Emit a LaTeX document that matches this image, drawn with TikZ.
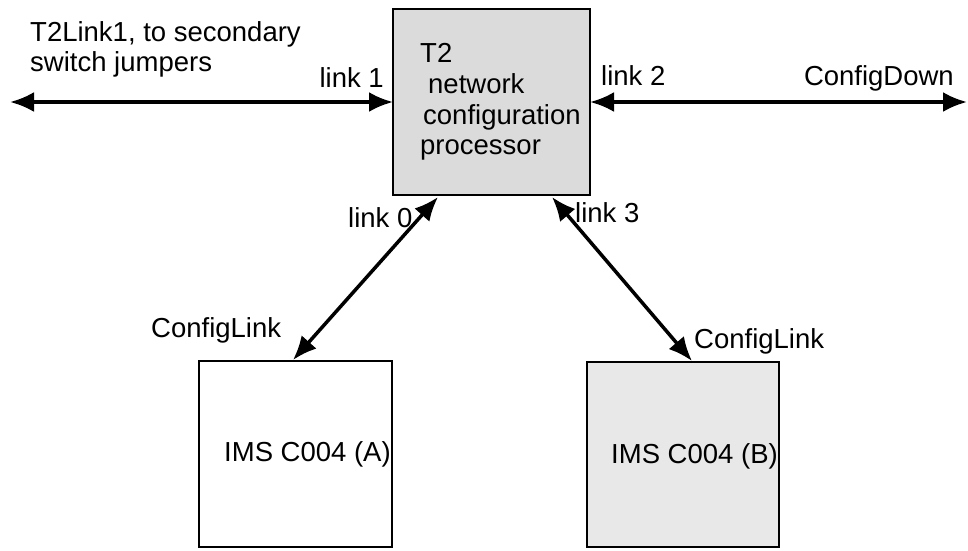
\documentclass[tikz,border=0pt]{standalone}
\usepackage{fontspec}
\setmainfont{Liberation Sans}
\usetikzlibrary{arrows.meta}
\begin{document}
\begin{tikzpicture}[x=1pt,y=-1pt,
  lbl/.style={inner sep=0pt,font=\fontsize{27.5}{31}\selectfont},
  boxA/.style={draw=black,line width=2.5pt,inner sep=0pt},
  link/.style={line width=3.5pt,{Latex[length=24pt,width=20pt]}-{Latex[length=24pt,width=20pt]}}]
\useasboundingbox (0,0) rectangle (968,550);
% boxes
\path[boxA,fill=black!14] (393,9) rectangle (590,195);
\path[boxA,fill=white] (199,361) rectangle (392,547);
\path[boxA,fill=black!9] (587,362) rectangle (779,547);
% named connector ends
\coordinate (leftend) at (10,102);
\coordinate (cpw) at (393,102);
\coordinate (cpe) at (590,102);
\coordinate (rightend) at (967,102);
\coordinate (cps0) at (438,197);
\coordinate (atop) at (293,360);
\coordinate (cps3) at (552,197);
\coordinate (btop) at (692,361);
% connectors
\draw[link] (leftend) -- (cpw);
\draw[link] (cpe) -- (rightend);
\draw[link] (cps0) -- (atop);
\draw[link] (cps3) -- (btop);
% texts
\node[lbl,anchor=base west] (t1) at (30,41) {T2Link1, to secondary};
\node[lbl,anchor=base west] (t2) at (30,71) {switch jumpers};
\node[lbl,anchor=base east] (l1) at (384,87) {link 1};
\node[lbl,anchor=base west] (l2) at (601,85) {link 2};
\node[lbl,anchor=base east] (cd) at (954,85) {ConfigDown};
\node[lbl,anchor=base west] (l0) at (348,227) {link 0};
\node[lbl,anchor=base west] (l3) at (575,222) {link 3};
\node[lbl,anchor=base west] (cla) at (151,337) {ConfigLink};
\node[lbl,anchor=base west] (clb) at (694,348) {ConfigLink};
\node[lbl,anchor=base west] (p1) at (420,62) {T2};
\node[lbl,anchor=base west] (p2) at (428,93) {network};
\node[lbl,anchor=base west] (p3) at (423,124) {configuration};
\node[lbl,anchor=base west] (p4) at (420,154) {processor};
\node[lbl,anchor=base west] (ia) at (224,461) {IMS C004 (A)};
\node[lbl,anchor=base west] (ib) at (611,463) {IMS C004 (B)};
\end{tikzpicture}
\end{document}
